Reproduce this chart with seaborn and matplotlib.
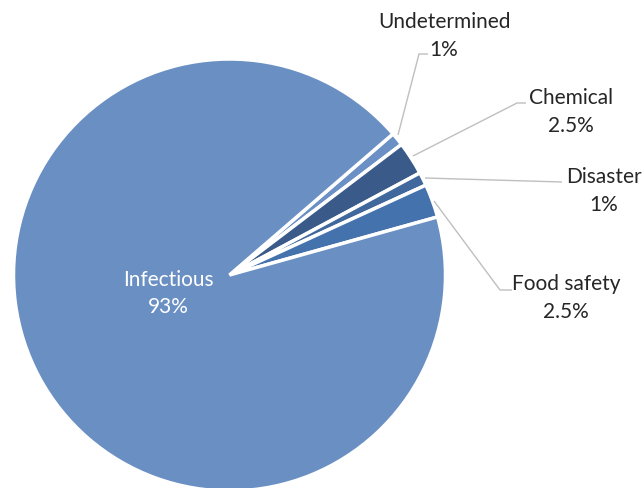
import matplotlib
matplotlib.use("Agg")
import matplotlib.pyplot as plt
import seaborn as sns

# Share of events by category (percent)
categories = ["Undetermined", "Chemical", "Disaster", "Food safety", "Infectious"]
shares = [1, 2.5, 1, 2.5, 93]
share_labels = ["1%", "2.5%", "1%", "2.5%", "93%"]

sns.set_theme(style="white")
plt.rcParams["font.family"] = ["Lato", "DejaVu Sans"]

colors = ["#6B90C6", "#3A5B89", "#41689D", "#4472AD", "#6A8FC3"]

W, H = 642, 489
fig = plt.figure(figsize=(W / 100, H / 100), dpi=100)
ax = fig.add_axes([0, 0, 1, 1])

cx, cy, r = 229.5, H - 276, 216
wedges, _ = ax.pie(
    shares,
    colors=colors,
    startangle=40.8,
    counterclock=False,
    center=(cx, cy),
    radius=r,
    frame=True,
    wedgeprops=dict(edgecolor="white", linewidth=2.5),
)
ax.set_xlim(0, W)
ax.set_ylim(0, H)
ax.set_aspect("equal")
ax.axis("off")

text_color = "#262626"
fs = 15
line_color = "#BFBFBF"
gap = 28

# Leader lines in pixel coordinates (y from top)
leaders = {
    "Undetermined": [(398, 136), (419, 55), (428, 55)],
    "Chemical": [(413, 157), (517, 104), (526, 104)],
    "Disaster": [(425, 179), (562, 183)],
    "Food safety": [(434, 202), (500, 291), (512, 291)],
}
label_pos = {
    "Undetermined": (444, 22),
    "Chemical": (571, 98),
    "Disaster": (604, 177),
    "Food safety": (566, 284),
    "Infectious": (168, 280),
}

for cat, lab in zip(categories, share_labels):
    x, y = label_pos[cat]
    if cat == "Infectious":
        ax.text(x, H - y, cat, color="white", fontsize=fs, ha="center", va="center")
        ax.text(x, H - y - gap + 1, lab, color="white", fontsize=fs, ha="center", va="center")
        continue
    pts = leaders[cat]
    ax.plot([p[0] for p in pts], [H - p[1] for p in pts], color=line_color, lw=1.0,
            solid_capstyle="butt")
    ax.text(x, H - y, cat, color=text_color, fontsize=fs, ha="center", va="center")
    ax.text(x, H - y - gap, lab, color=text_color, fontsize=fs, ha="center", va="center")

fig.savefig("out.png", dpi=100, facecolor="white")
